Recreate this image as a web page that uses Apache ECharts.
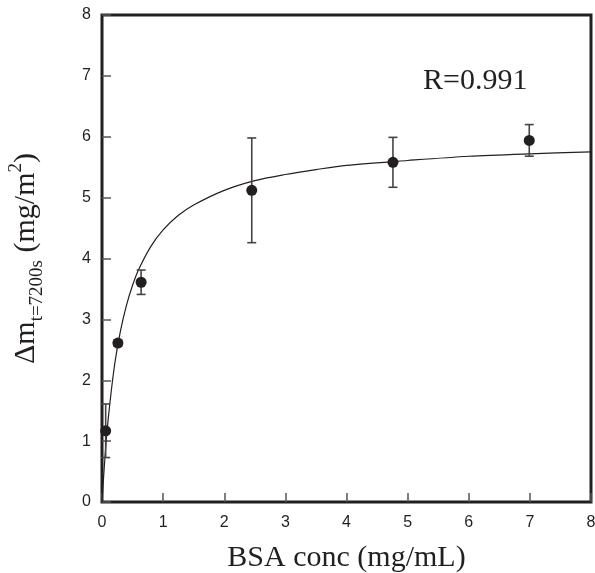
<!DOCTYPE html>
<html>
<head>
<meta charset="utf-8">
<script src="https://cdn.jsdelivr.net/npm/echarts@6/dist/echarts.min.js"></script>
<style>html,body{margin:0;padding:0;background:#fff}#c{width:595px;height:573px}</style>
</head>
<body>
<div id="c"></div>
<script>
// measured data
var concX = [0.06, 0.26, 0.64, 2.45, 4.76, 6.99];
var deltaM = [1.17, 2.61, 3.61, 5.12, 5.58, 5.94];
var errM = [0.44, 0.05, 0.20, 0.86, 0.41, 0.26];
// fitted curve
var fitX = [0, 0.05, 0.1, 0.2, 0.3, 0.4, 0.5, 0.6, 0.8, 1.0, 1.25, 1.5, 2, 2.5, 3, 3.5, 4, 5, 6, 7, 8];
var fitY = [0, 0.76, 1.35, 2.21, 2.80, 3.23, 3.56, 3.82, 4.20, 4.47, 4.71, 4.88, 5.12, 5.28, 5.38, 5.46, 5.53, 5.61, 5.68, 5.72, 5.75];
var xTicks = [0, 1, 2, 3, 4, 5, 6, 7, 8];
var yTicks = [0, 1, 2, 3, 4, 5, 6, 7, 8];

var chart = echarts.init(document.getElementById('c'), null, {renderer: 'canvas'});
var ink = '#231f20';
var tickLbl = {color: ink, fontFamily: 'Liberation Sans', fontSize: 16};
var pts = concX.map(function (x, i) { return [x, deltaM[i]]; });
var errs = concX.map(function (x, i) { return [x, deltaM[i] - errM[i], deltaM[i] + errM[i]]; });
var fit = fitX.map(function (x, i) { return [x, fitY[i]]; });

chart.setOption({
  animation: false,
  backgroundColor: '#fff',
  grid: {left: 102, top: 15, right: 4, bottom: 71, outerBoundsMode: 'none', containLabel: false,
         show: true, borderColor: ink, borderWidth: 3, backgroundColor: 'transparent'},
  xAxis: {
    type: 'value', min: 0, max: 8, interval: 1,
    axisLine: {show: false},
    axisTick: {show: true, inside: true, length: 9, lineStyle: {color: '#555', width: 1.5}},
    splitLine: {show: false},
    axisLabel: Object.assign({margin: 13, formatter: function (v) { return xTicks.indexOf(v) >= 0 ? String(v) : ''; }}, tickLbl),
    name: 'BSA conc (mg/mL)', nameLocation: 'middle', nameGap: 41,
    nameTextStyle: {fontFamily: 'Liberation Serif', fontSize: 30, color: ink}
  },
  yAxis: {
    type: 'value', min: 0, max: 8, interval: 1,
    axisLine: {show: false},
    axisTick: {show: true, inside: true, length: 9, lineStyle: {color: '#555', width: 1.5}},
    splitLine: {show: false},
    axisLabel: Object.assign({margin: 11, formatter: function (v) { return yTicks.indexOf(v) >= 0 ? String(v) : ''; }}, tickLbl),
    name: '{a|Δm}{b|t=7200s}{a| (mg/m}{c|2}{a|)}', nameLocation: 'middle', nameGap: 52, nameRotate: 90,
    nameTextStyle: {
      color: ink,
      rich: {
        a: {fontFamily: 'Liberation Serif', fontSize: 30, color: ink, lineHeight: 48, verticalAlign: 'middle'},
        b: {fontFamily: 'Liberation Serif', fontSize: 19, color: ink, lineHeight: 48, verticalAlign: 'middle', padding: [22, 0, 0, 0]},
        c: {fontFamily: 'Liberation Serif', fontSize: 19, color: ink, lineHeight: 48, verticalAlign: 'middle', padding: [0, 0, 20, 0]}
      }
    }
  },
  graphic: [{
    type: 'text', left: 423, top: 66,
    style: {text: 'R=0.991', fontFamily: 'Liberation Serif', fontSize: 30, fill: ink}
  }],
  series: [
    {
      type: 'line', data: fit, showSymbol: false, smooth: 0.3,
      lineStyle: {color: ink, width: 1.2}, z: 2
    },
    {
      type: 'custom', data: errs, z: 3,
      renderItem: function (params, api) {
        var x = api.value(0);
        var lo = api.coord([x, api.value(1)]);
        var hi = api.coord([x, api.value(2)]);
        var w = 4.5;
        var st = {stroke: '#444', lineWidth: 1.6};
        return {type: 'group', children: [
          {type: 'line', shape: {x1: lo[0], y1: lo[1], x2: hi[0], y2: hi[1]}, style: st},
          {type: 'line', shape: {x1: lo[0] - w, y1: lo[1], x2: lo[0] + w, y2: lo[1]}, style: st},
          {type: 'line', shape: {x1: hi[0] - w, y1: hi[1], x2: hi[0] + w, y2: hi[1]}, style: st}
        ]};
      }
    },
    {
      type: 'scatter', data: pts, symbol: 'circle', symbolSize: 11,
      itemStyle: {color: ink, opacity: 1}, z: 4
    }
  ]
});
</script>
</body>
</html>
